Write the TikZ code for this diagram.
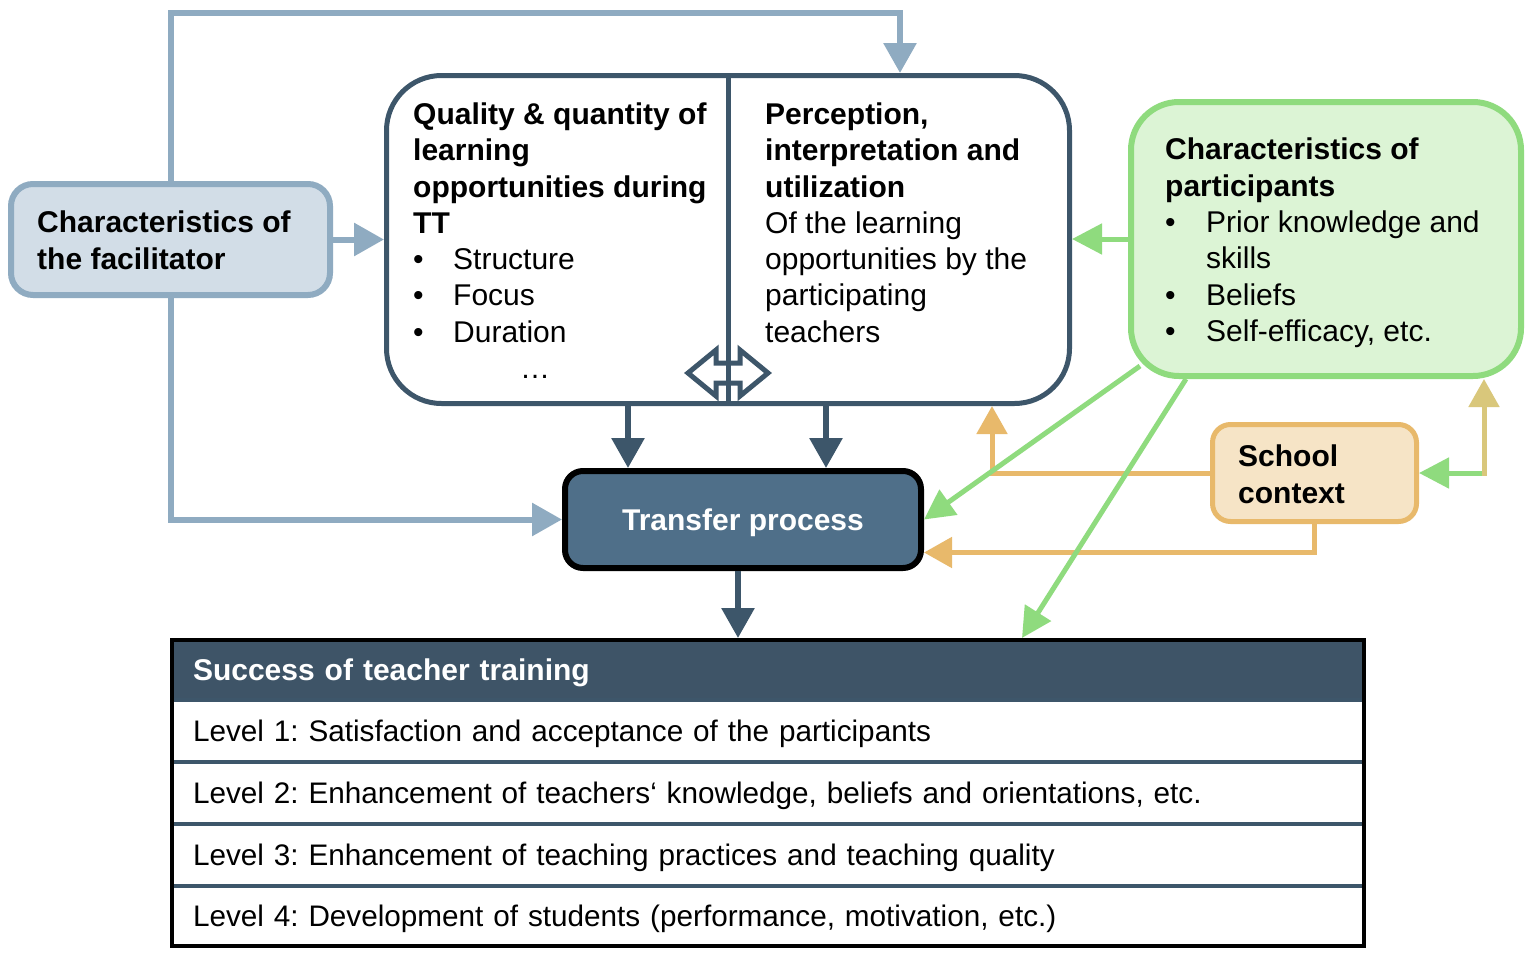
\documentclass[tikz,border=0pt]{standalone}
\usepackage{fontspec}
\setmainfont{Liberation Sans}
\usetikzlibrary{arrows.meta,calc}
\definecolor{navy}{HTML}{3D566A}
\definecolor{trfill}{HTML}{4F6F89}
\definecolor{hdrfill}{HTML}{3E5467}
\definecolor{bluel}{HTML}{8FABC1}
\definecolor{bluefill}{HTML}{D2DDE7}
\definecolor{greenl}{HTML}{8FDB7E}
\definecolor{greenfill}{HTML}{DCF4D5}
\definecolor{orl}{HTML}{E8B96B}
\definecolor{orfill}{HTML}{F6E4C6}
\definecolor{khaki}{HTML}{D9C77B}
\newcommand\mybul{\makebox[40pt][l]{•}}
\newcommand\mybulg{\makebox[41pt][l]{•}}
\frenchspacing
\begin{document}
\begin{tikzpicture}[x=1pt,y=-1pt,
  txt/.style={font=\fontsize{30}{36.3}\selectfont, inner sep=0pt, align=left, anchor=north west},
  boldtxt/.style={txt, font=\fontsize{30}{36.3}\selectfont\bfseries},
  facbox/.style={rectangle, rounded corners=22pt, draw=bluel, fill=bluefill, line width=6pt, minimum width=319pt, minimum height=111pt, inner sep=0pt},
  bigbox/.style={rectangle, rounded corners=55pt, draw=navy, fill=white, line width=5pt, minimum width=683pt, minimum height=328pt, inner sep=0pt},
  greenbox/.style={rectangle, rounded corners=48pt, draw=greenl, fill=greenfill, line width=6pt, minimum width=390pt, minimum height=274pt, inner sep=0pt},
  schoolbox/.style={rectangle, rounded corners=18pt, draw=orl, fill=orfill, line width=5pt, minimum width=204pt, minimum height=97pt, inner sep=0pt},
  trbox/.style={rectangle, rounded corners=18pt, draw=black, fill=trfill, line width=6pt, minimum width=356pt, minimum height=97pt, inner sep=0pt, text=white, font=\fontsize{30}{36}\selectfont\bfseries, text height=21.5pt, text depth=0pt},
  hdrrow/.style={rectangle, draw=black, fill=hdrfill, line width=4pt, text width=1150pt, inner xsep=21pt, inner ysep=0pt, minimum height=60pt, align=left, text=white, font=\fontsize{30}{36}\selectfont\bfseries, text height=21.5pt, text depth=0pt},
  lvlrow/.style={rectangle, draw=navy, fill=white, line width=4pt, text width=1150pt, inner xsep=21pt, inner ysep=0pt, minimum height=62pt, align=left, font=\fontsize{29.7}{36}\selectfont, text height=21.5pt, text depth=0pt},
  bluearr/.style={draw=bluel, line width=6pt, -{Triangle[length=30pt,width=32pt]}},
  darkarr/.style={draw=navy, line width=6pt, -{Triangle[length=30pt,width=32pt]}},
  greenarr/.style={draw=greenl, line width=5pt, -{Triangle[length=30pt,width=30pt]}},
  orarr/.style={draw=orl, line width=5pt, -{Triangle[length=28pt,width=30pt]}},
  khakiarr/.style={draw=khaki, line width=5pt, -{Triangle[length=28pt,width=30pt]}}
]
\useasboundingbox[fill=white] (0,0) rectangle (1535,959);

% boxes
\node[facbox] (fac) at (170.5,239.5) {};
\node[bigbox] (big) at (728,239.5) {};
\node[greenbox] (green) at (1326,239) {};
\node[schoolbox] (sc) at (1314.5,473) {};
\node[trbox] (tr) at (743,519.5) {Transfer process};

% table
\node[hdrrow] (hdr) at (768,670) {Success of teacher training};
\node[lvlrow] (r1) at (768,731) {Level 1: Satisfaction and acceptance of the participants};
\node[lvlrow] (r2) at (768,793) {Level 2: Enhancement of teachers‘ knowledge, beliefs and orientations, etc.};
\node[lvlrow] (r3) at (768,855) {Level 3: Enhancement of teaching practices and teaching quality};
\node[lvlrow, minimum height=60pt] (r4) at (768,916) {Level 4: Development of students (performance, motivation, etc.)};
\draw[black, line width=4pt] ($(hdr.north west)+(2,2)$) rectangle ($(r4.south east)+(-2,-2)$);

% double arrow and divider in big box
\draw[navy, line width=5pt, fill=white, line join=miter]
  (688,373) -- (716,350) -- (716,363) -- (740,363) -- (740,350) -- (768,373)
  -- (740,396) -- (740,383) -- (716,383) -- (716,396) -- cycle;
\draw[navy, line width=5pt] (big.north) -- (big.south);

% texts
\node[boldtxt] (facT) at (37,211) {Characteristics of\\the facilitator};
\node[txt] (lq) at (413,102.5) {\textbf{Quality \& quantity of}\\\textbf{learning}\\\textbf{opportunities during}\\\textbf{TT}\\\mybul Structure\\\mybul Focus\\\mybul Duration};
\node[font=\fontsize{30}{36}\selectfont, inner sep=0pt, anchor=base] (ell) at (535,378) {…};
\node[txt] (rp) at (765,102.5) {\textbf{Perception,}\\\textbf{interpretation and}\\\textbf{utilization}\\Of the learning\\opportunities by the\\participating\\teachers};
\node[txt] (gt) at (1165,138) {\textbf{Characteristics of}\\\textbf{participants}\\\mybulg Prior knowledge and\\\hspace*{41pt}skills\\\mybulg Beliefs\\\mybulg Self-efficacy, etc.};
\node[boldtxt] (st) at (1238,445) {School\\context};

% blue connectors
\draw[bluearr] (fac.north) |- ($(big.north)+(172,-60)$) -- ($(big.north)+(172,0)$);
\draw[bluearr] (fac.east) -- (fac.east -| big.west);
\draw[bluearr] (fac.south) |- (tr.west);

% dark connectors
\coordinate (d1) at ($(big.south)+(-100,0)$);
\coordinate (d2) at ($(big.south)+(98,0)$);
\draw[darkarr] (d1) -- (d1 |- tr.north);
\draw[darkarr] (d2) -- (d2 |- tr.north);
\coordinate (d3) at ($(tr.south)+(-5,0)$);
\draw[darkarr] (d3) -- (d3 |- hdr.north);

% orange connectors
\coordinate (o1) at ($(big.south)+(264,0)$);
\draw[orarr] (sc.west) -| (o1);
\coordinate (o2) at ($(tr.east)+(0,33)$);
\draw[orarr] (sc.south) |- (o2);

% green connectors
\draw[greenarr] (green.west) -- (green.west -| big.east);
\coordinate (g1) at ($(green.south west)+(12,-13)$);
\draw[greenarr] (g1) -- (tr.east);
\coordinate (g2) at ($(green.south west)+(58,0)$);
\coordinate (g2e) at ($(hdr.north west)+(852,0)$);
\draw[greenarr] (g2) -- (g2e);

% school <-> participants
\coordinate (k1) at ($(green.south)+(158,0)$);
\coordinate (kc) at (sc.east -| k1);
\draw[greenarr] ($(kc)+(2.5,0)$) -- (sc.east);
\draw[khakiarr] ($(kc)+(0,2.5)$) -- (k1);
\end{tikzpicture}
\end{document}
